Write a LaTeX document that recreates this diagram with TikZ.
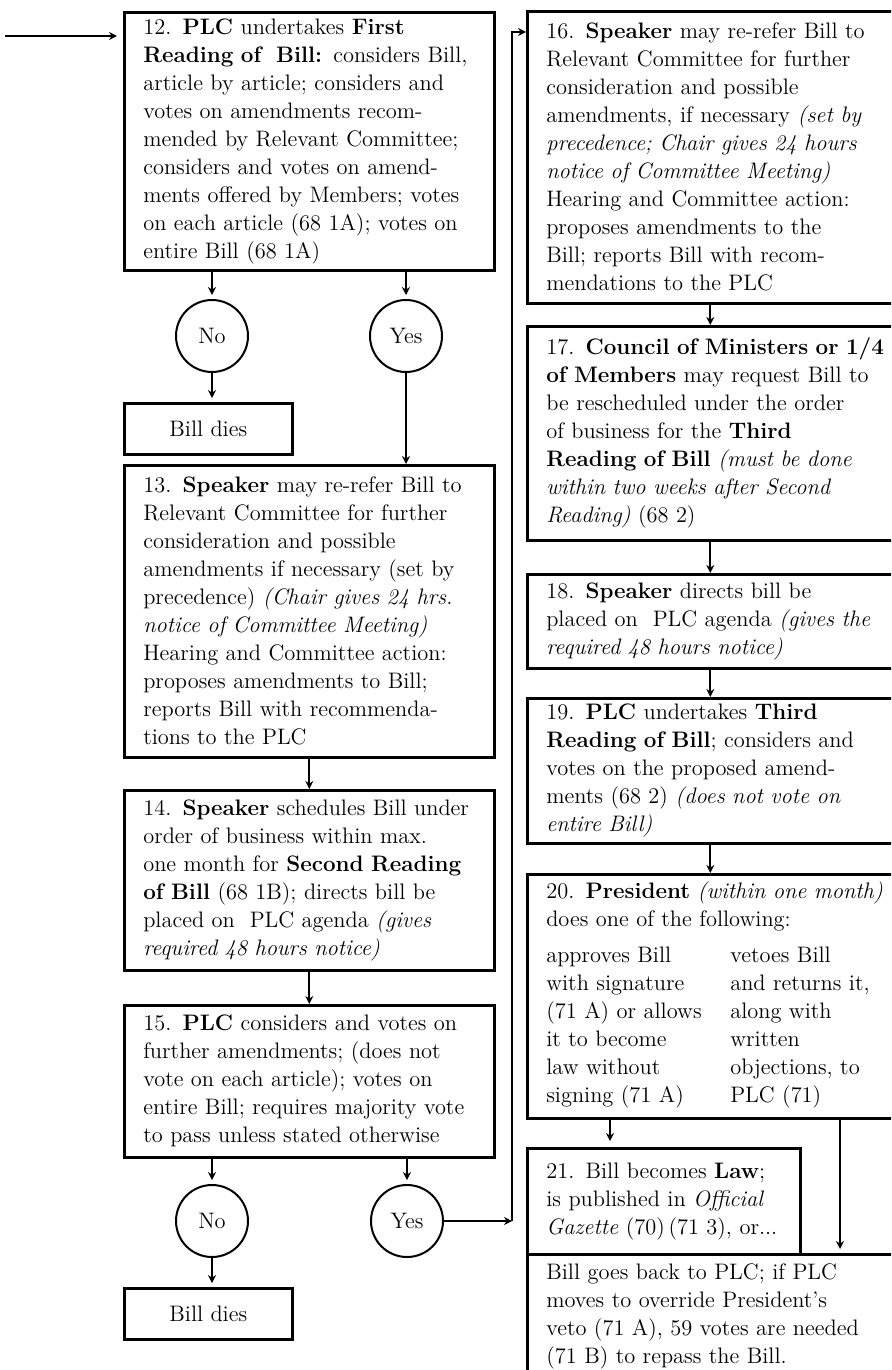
\documentclass[tikz,border=0pt]{standalone}
\usepackage{tikz}
\usetikzlibrary{arrows.meta, positioning, calc}

\begin{document}
\begin{tikzpicture}[
  x=0.5pt, y=-0.5pt,
  stage/.style={draw, line width=1.3pt, anchor=north west, align=left, text width=166pt, inner xsep=9.5pt, inner ysep=3pt, font=\fontsize{11.2}{14}\selectfont},
  widestage/.style={stage, text width=176pt},
  diesbox/.style={draw, line width=1.3pt, anchor=north west, minimum width=84pt, minimum height=25.5pt, font=\fontsize{11.2}{14}\selectfont},
  vote/.style={draw, circle, line width=1pt, minimum size=36pt, inner sep=0pt, font=\fontsize{11.2}{14}\selectfont},
  flow/.style={-{Stealth[length=4pt, width=4pt]}, line width=0.9pt}
]
  \useasboundingbox (0,0) rectangle (891,1370);
  \clip (0,0) rectangle (891,1370);

  % First and second reading column
  \node[stage, minimum height=129pt] (b12) at (123,11) {12. \textbf{PLC} undertakes \textbf{First}\\
    \textbf{Reading of\ \ Bill:} considers Bill,\\
    article by article; considers and\\
    votes on amendments recom-\\
    mended by Relevant Committee;\\
    considers and votes on amend-\\
    ments offered by Members; votes\\
    on each article (68 1A); votes on\\
    entire Bill (68 1A)};
  \node[vote] (no1) at (212,336) {No};
  \node[vote] (yes1) at (406,336) {Yes};
  \node[diesbox] (dies1) at (123,402) {Bill dies};
  \node[stage, minimum height=146pt] (b13) at (123,464) {13. \textbf{Speaker} may re-refer Bill to\\
    Relevant Committee for further\\
    consideration and possible\\
    amendments if necessary (set by\\
    precedence) \textit{(Chair gives 24 hrs.}\\
    \textit{notice of Committee Meeting)}\\
    Hearing and Committee action:\\
    proposes amendments to Bill;\\
    reports Bill with recommenda-\\
    tions to the PLC};
  \node[stage, minimum height=90pt] (b14) at (123,789) {14. \textbf{Speaker} schedules Bill under\\
    order of business within max.\\
    one month for \textbf{Second Reading}\\
    \textbf{of Bill} (68 1B); directs bill be\\
    placed on\ \ PLC agenda \textit{(gives}\\
    \textit{required 48 hours notice)}};
  \node[stage, minimum height=76pt] (b15) at (123,1004) {15. \textbf{PLC} considers and votes on\\
    further amendments; (does not\\
    vote on each article); votes on\\
    entire Bill; requires majority vote\\
    to pass unless stated otherwise};
  \node[vote] (no2) at (212,1221) {No};
  \node[vote] (yes2) at (407,1221) {Yes};
  \node[diesbox] (dies2) at (123,1287) {Bill dies};

  % Third reading column
  \node[widestage, minimum height=146pt] (b16) at (526,10) {16. \textbf{Speaker} may re-refer Bill to\\
    Relevant Committee for further\\
    consideration and possible\\
    amendments, if necessary \textit{(set by}\\
    \textit{precedence; Chair gives 24 hours}\\
    \textit{notice of Committee Meeting)}\\
    Hearing and Committee action:\\
    proposes amendments to the\\
    Bill; reports Bill with recom-\\
    mendations to the PLC};
  \node[widestage, minimum height=107pt] (b17) at (526,325) {17. \textbf{Council of Ministers or 1/4}\\
    \textbf{of Members} may request Bill to\\
    be rescheduled under the order\\
    of business for the \textbf{Third}\\
    \textbf{Reading of Bill} \textit{(must be done}\\
    \textit{within two weeks after Second}\\
    \textit{Reading)} (68 2)};
  \node[widestage, minimum height=47pt] (b18) at (526,573) {18. \textbf{Speaker} directs bill be\\
    placed on\ \ PLC agenda \textit{(gives the}\\
    \textit{required 48 hours notice)}};
  \node[widestage, minimum height=72.5pt] (b19) at (526,697) {19. \textbf{PLC} undertakes \textbf{Third}\\
    \textbf{Reading of Bill}; considers and\\
    votes on the proposed amend-\\
    ments (68 2) \textit{(does not vote on}\\
    \textit{entire Bill)}};
  \node[widestage, minimum height=122pt] (b20) at (526,873) {20. \textbf{President} \textit{(within one month)}\\
    does one of the following:\\[4pt]
    \begin{tabular}[t]{@{}p{92pt}@{}l@{}}
      approves Bill & vetoes Bill\\
      with signature & and returns it,\\
      (71 A) or allows & along with\\
      it to become & written\\
      law without & objections, to\\
      signing (71 A) & PLC (71)
    \end{tabular}};
  \node[stage, text width=117.5pt, minimum height=53pt] (b21) at (526,1147) {21. Bill becomes \textbf{Law};\\
    is published in \textit{Official}\\
    \textit{Gazette} (70)\,(71 3), or...};
  \node[widestage, minimum height=62pt] (b22) at (526,1253) {Bill goes back to PLC; if PLC\\
    moves to override President's\\
    veto (71 A), 59 votes are needed\\
    (71 B) to repass the Bill.};

  % Connectors
  \coordinate (entry) at (5,36);
  \draw[flow, line width=1.3pt] (entry) -- (b12.west |- entry) [shorten >=3pt];
  \draw[flow, shorten >=2pt] (b12.south -| no1) -- (no1);
  \draw[flow, shorten >=2pt] (b12.south -| yes1) -- (yes1);
  \draw[flow, shorten >=2pt] (no1) -- (dies1.north -| no1);
  \draw[flow] (yes1) -- (b13.north -| yes1);
  \draw[flow] (b13) -- (b14);
  \draw[flow] (b14) -- (b15);
  \draw[flow, shorten >=2pt] (b15.south -| no2) -- (no2);
  \draw[flow, shorten >=2pt] (b15.south -| yes2) -- (yes2);
  \draw[flow, shorten >=2pt] (no2) -- (dies2.north -| no2);

  \coordinate (upturn) at (512,1221);
  \draw[flow] (yes2) -- (upturn);
  \draw[flow] (upturn) |- ($(b16.north west)+(0,22)$);
  \draw[flow] ([xshift=-6pt]b16.south) -- ([xshift=-6pt]b17.north);
  \draw[flow] ([xshift=-6pt]b17.south) -- ([xshift=-6pt]b18.north);
  \draw[flow] ([xshift=-6pt]b18.south) -- ([xshift=-6pt]b19.north);
  \draw[flow] ([xshift=-6pt]b19.south) -- ([xshift=-6pt]b20.north);

  \coordinate (signs) at ($(b21.north west)+(84,0)$);
  \coordinate (vetoes) at ($(b22.north west)+(314,0)$);
  \draw[flow, shorten >=3pt] (b20.south -| signs) -- (signs);
  \draw[flow, shorten >=2pt] (b20.south -| vetoes) -- (vetoes);
\end{tikzpicture}
\end{document}
